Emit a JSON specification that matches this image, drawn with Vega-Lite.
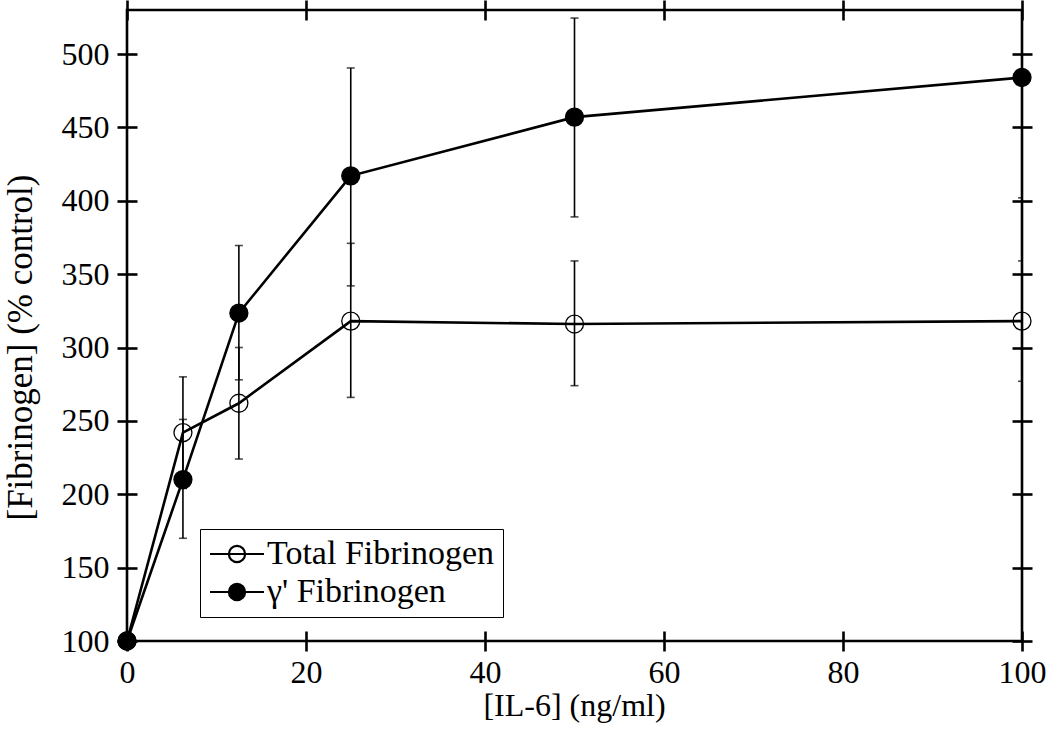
{
  "$schema": "https://vega.github.io/schema/vega-lite/v6.json",
  "autosize": "none",
  "width": 895,
  "height": 631,
  "padding": {"left": 127, "top": 10, "right": 28, "bottom": 101},
  "background": "white",
  "config": {
    "font": "Liberation Serif",
    "view": {"stroke": "black", "strokeWidth": 2.6},
    "axis": {"grid": false}
  },
  "datasets": {
    "fib": [
      {"series": "Total Fibrinogen", "conc": 0, "mean": 100, "lo": null, "hi": null},
      {"series": "Total Fibrinogen", "conc": 6.25, "mean": 242, "lo": 204, "hi": 280},
      {"series": "Total Fibrinogen", "conc": 12.5, "mean": 262, "lo": 224, "hi": 300},
      {"series": "Total Fibrinogen", "conc": 25, "mean": 318, "lo": 266, "hi": 371},
      {"series": "Total Fibrinogen", "conc": 50, "mean": 316, "lo": 274, "hi": 359},
      {"series": "Total Fibrinogen", "conc": 100, "mean": 318, "lo": 277, "hi": 359},
      {"series": "γ' Fibrinogen", "conc": 0, "mean": 100, "lo": null, "hi": null},
      {"series": "γ' Fibrinogen", "conc": 6.25, "mean": 210, "lo": 170, "hi": 251},
      {"series": "γ' Fibrinogen", "conc": 12.5, "mean": 323.5, "lo": 278, "hi": 369.5},
      {"series": "γ' Fibrinogen", "conc": 25, "mean": 417, "lo": 342, "hi": 490.5},
      {"series": "γ' Fibrinogen", "conc": 50, "mean": 457, "lo": 389, "hi": 524.5},
      {"series": "γ' Fibrinogen", "conc": 100, "mean": 484, "lo": 402, "hi": 566}
    ]
  },
  "data": {"name": "fib"},
  "resolve": {"axis": {"x": "independent", "y": "independent"}},
  "layer": [
    {
      "transform": [{"filter": "datum.lo != null"}],
      "mark": {"type": "rule", "color": "black", "strokeWidth": 1.6, "clip": true},
      "encoding": {
        "x": {
          "field": "conc", "type": "quantitative",
          "scale": {"domain": [0, 100], "nice": false, "zero": false},
          "axis": {
            "orient": "bottom", "values": [0, 20, 40, 60, 80, 100],
            "domain": false, "offset": -10, "tickSize": 20, "tickWidth": 2.6, "tickColor": "black",
            "labelFont": "Liberation Serif", "labelFontSize": 32, "labelColor": "black", "labelPadding": 6,
            "labelFlush": false, "labelOverlap": false,
            "title": "[IL-6] (ng/ml)", "titleFont": "Liberation Serif", "titleFontSize": 32,
            "titleFontWeight": "normal", "titleColor": "black",
            "titleBaseline": "alphabetic", "titleX": 447, "titleY": 84
          }
        },
        "y": {
          "field": "lo", "type": "quantitative",
          "scale": {"domain": [100, 530], "nice": false, "zero": false},
          "axis": {
            "orient": "left", "values": [100, 150, 200, 250, 300, 350, 400, 450, 500],
            "domain": false, "offset": -10, "tickSize": 20, "tickWidth": 2.6, "tickColor": "black",
            "labelFont": "Liberation Serif", "labelFontSize": 32, "labelColor": "black", "labelPadding": 8,
            "labelFlush": false, "labelOverlap": false,
            "title": "[Fibrinogen] (% control)", "titleFont": "Liberation Serif", "titleFontSize": 35,
            "titleFontWeight": "normal", "titleColor": "black",
            "titleBaseline": "bottom", "titleAngle": 270, "titleAlign": "center",
            "titleX": -99, "titleY": 337
          }
        },
        "y2": {"field": "hi"}
      }
    },
    {
      "transform": [{"filter": "datum.lo != null"}],
      "mark": {"type": "tick", "orient": "horizontal", "color": "black", "size": 8, "thickness": 1.6, "clip": true},
      "encoding": {
        "x": {
          "field": "conc", "type": "quantitative",
          "axis": {
            "orient": "top", "values": [0, 20, 40, 60, 80, 100],
            "domain": false, "offset": -10, "tickSize": 20, "tickWidth": 2.6, "tickColor": "black",
            "labels": false, "title": null
          }
        },
        "y": {
          "field": "lo", "type": "quantitative",
          "axis": {
            "orient": "right", "values": [100, 150, 200, 250, 300, 350, 400, 450, 500],
            "domain": false, "offset": -10, "tickSize": 20, "tickWidth": 2.6, "tickColor": "black",
            "labels": false, "title": null
          }
        }
      }
    },
    {
      "transform": [{"filter": "datum.hi != null"}],
      "mark": {"type": "tick", "orient": "horizontal", "color": "black", "size": 8, "thickness": 1.6, "clip": true},
      "encoding": {
        "x": {"field": "conc", "type": "quantitative", "axis": null},
        "y": {"field": "hi", "type": "quantitative", "axis": null}
      }
    },
    {
      "mark": {"type": "line", "color": "black", "strokeWidth": 2.6},
      "encoding": {
        "x": {"field": "conc", "type": "quantitative", "axis": null},
        "y": {"field": "mean", "type": "quantitative", "axis": null},
        "detail": {"field": "series"}
      }
    },
    {
      "mark": {"type": "point", "shape": "circle", "filled": true, "stroke": "black", "strokeWidth": 1.3, "size": 324, "opacity": 1},
      "encoding": {
        "x": {"field": "conc", "type": "quantitative", "axis": null},
        "y": {"field": "mean", "type": "quantitative", "axis": null},
        "fill": {
          "field": "series", "type": "nominal",
          "scale": {"domain": ["Total Fibrinogen", "γ' Fibrinogen"], "range": ["transparent", "black"]},
          "legend": {
            "orient": "none", "legendX": 73, "legendY": 519, "title": null,
            "fillColor": "white", "strokeColor": "black", "padding": 8, "cornerRadius": 0,
            "labelFont": "Liberation Serif", "labelFontSize": 34, "labelColor": "black",
            "labelLimit": 500, "labelOffset": 13,
            "symbolType": "M-2,0L2,0M0.6,0A0.6,0.6,0,1,1,-0.6,0A0.6,0.6,0,1,1,0.6,0",
            "symbolSize": 729, "symbolOffset": 12, "symbolStrokeColor": "black", "symbolStrokeWidth": 2.2, "symbolOpacity": 1,
            "rowPadding": 4
          }
        }
      }
    }
  ]
}
